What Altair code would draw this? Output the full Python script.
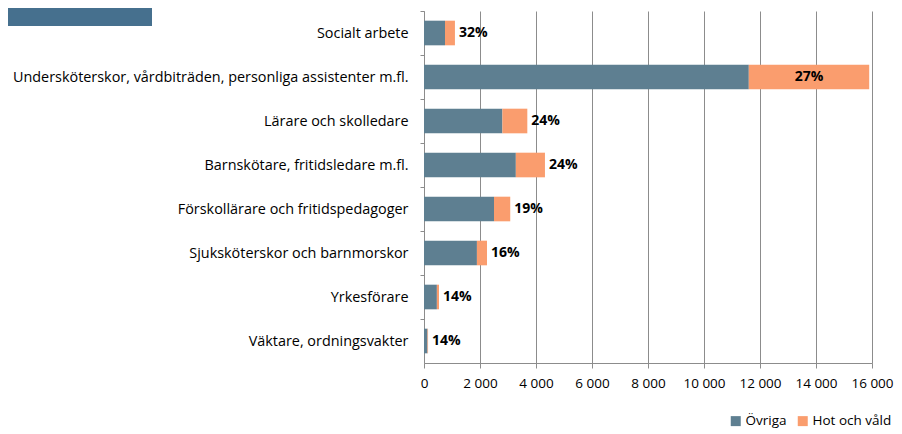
import altair as alt
import pandas as pd

categories = [
    "Socialt arbete",
    "Undersköterskor, vårdbiträden, personliga assistenter m.fl.",
    "Lärare och skolledare",
    "Barnskötare, fritidsledare m.fl.",
    "Förskollärare och fritidspedagoger",
    "Sjuksköterskor och barnmorskor",
    "Yrkesförare",
    "Väktare, ordningsvakter",
]
ovriga = [750, 11600, 2800, 3280, 2500, 1890, 460, 125]
hot_och_vald = [355, 4300, 890, 1040, 580, 360, 75, 20]
pct_labels = ["32%", "27%", "24%", "24%", "19%", "16%", "14%", "14%"]
series_names = ["Övriga", "Hot och våld"]
series_colors = ["#5E7F91", "#FA9D6E"]
x_ticks = [0, 2000, 4000, 6000, 8000, 10000, 12000, 14000, 16000]

FONT = "Open Sans"
GRID = "#8C8C8C"

rows = []
for c, o, h in zip(categories, ovriga, hot_och_vald):
    rows.append({"kategori": c, "serie": series_names[0], "antal": o, "ordning": 0})
    rows.append({"kategori": c, "serie": series_names[1], "antal": h, "ordning": 1})
bars_df = pd.DataFrame(rows)

lab_df = pd.DataFrame({
    "kategori": categories,
    "total": [o + h for o, h in zip(ovriga, hot_och_vald)],
    "mitt": [o + h / 2 for o, h in zip(ovriga, hot_och_vald)],
    "label": pct_labels,
})

y_enc = alt.Y(
    "kategori:N",
    sort=categories,
    scale=alt.Scale(paddingInner=0.44, paddingOuter=0.22),
    axis=alt.Axis(
        title=None, labelFont=FONT, labelFontSize=14.4, labelColor="#000000",
        labelPadding=12, tickSize=4, tickColor=GRID, domainColor=GRID,
        bandPosition=0, tickOffset=-9.68, labelOffset=9.68, labelLimit=1000,
    ),
)

x_enc = alt.X(
    "antal:Q",
    stack="zero",
    scale=alt.Scale(domain=[0, 16000], nice=False),
    axis=alt.Axis(
        title=None, values=x_ticks, grid=True, gridColor=GRID, gridOpacity=1,
        tickSize=5, tickColor=GRID, domainColor=GRID, labelFont=FONT,
        labelFontSize=13.5, labelColor="#000000", labelPadding=8,
        labelOverlap=False, labelFlush=False,
        labelExpr="replace(format(datum.value, ','), ',', ' ')",
    ),
)

deco = alt.Chart(pd.DataFrame({"d": [0]})).mark_rect(color="#46708E").encode(
    x=alt.value(-416), x2=alt.value(-272), y=alt.value(-3), y2=alt.value(15)
)

bars = alt.Chart(bars_df).mark_bar().encode(
    x=x_enc,
    y=y_enc,
    color=alt.Color(
        "serie:N",
        scale=alt.Scale(domain=series_names, range=series_colors),
        legend=alt.Legend(
            title=None, orient="none", legendX=305, legendY=403,
            direction="horizontal", symbolType="square", symbolSize=100,
            symbolStrokeWidth=0, labelFont=FONT, labelFontSize=13.5,
            labelColor="#000000", columnPadding=9, labelOffset=3,
        ),
    ),
    order=alt.Order("ordning:Q"),
)

text_out = alt.Chart(lab_df).transform_filter(alt.datum.total < 12000).mark_text(
    align="left", baseline="middle", dx=4, font=FONT, fontSize=14,
    fontWeight="bold", color="#000000"
).encode(
    x=alt.X("total:Q"),
    y=alt.Y("kategori:N", sort=categories),
    text="label:N",
)

text_in = alt.Chart(lab_df).transform_filter(alt.datum.total >= 12000).mark_text(
    align="center", baseline="middle", font=FONT, fontSize=14,
    fontWeight="bold", color="#000000"
).encode(
    x=alt.X("mitt:Q"),
    y=alt.Y("kategori:N", sort=categories),
    text="label:N",
)

chart = alt.layer(deco, bars, text_out, text_in).properties(
    width=448,
    height=352,
    autosize=alt.AutoSizeParams(type="none"),
    padding={"left": 416, "top": 3, "right": 22, "bottom": 71},
).configure_view(stroke=None)

chart.save("out.html", embed_options={"renderer": "svg", "actions": False})
